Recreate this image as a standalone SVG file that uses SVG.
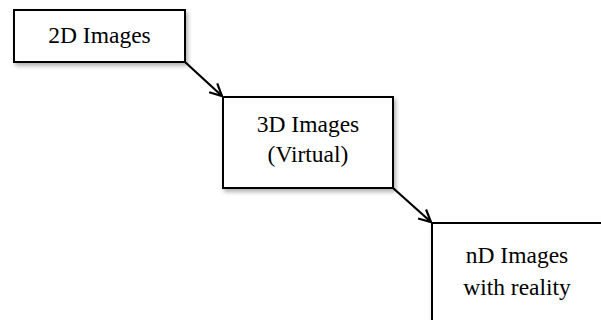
<svg xmlns="http://www.w3.org/2000/svg" width="601" height="320" viewBox="0 0 601 320">
<style>
.box{fill:#fff;stroke:#000;stroke-width:2}
.t{font-family:"Liberation Serif","Times New Roman",serif;font-size:23.5px;fill:#000;text-anchor:middle}
.c{stroke:#000;stroke-width:2.2;fill:none}
</style>
<defs>
<filter id="sh" x="-10%" y="-10%" width="130%" height="140%">
<feDropShadow dx="2" dy="3" stdDeviation="2" flood-color="#000" flood-opacity="0.3"/>
</filter>
<marker id="ah" viewBox="0 0 14 14" refX="13" refY="7" markerWidth="14" markerHeight="14" markerUnits="userSpaceOnUse" orient="auto">
<path d="M1,1 L13,7 L1,13" fill="none" stroke="#000" stroke-width="2.2"/>
</marker>
</defs>
<g id="connectors">
<line class="c" x1="185" y1="62" x2="222" y2="96" marker-end="url(#ah)"/>
<line class="c" x1="393" y1="188" x2="431" y2="222" marker-end="url(#ah)"/>
</g>
<g id="n1">
<rect class="box" x="14" y="10" width="171" height="52" filter="url(#sh)"/>
<text class="t" x="99.5" y="43">2D Images</text>
</g>
<g id="n2">
<rect class="box" x="223" y="97" width="170" height="91" filter="url(#sh)"/>
<text class="t" x="308" y="132">3D Images</text>
<text class="t" x="308" y="162">(Virtual)</text>
</g>
<g id="n3">
<rect class="box" x="432" y="223" width="190" height="120" filter="url(#sh)"/>
<text class="t" x="517" y="263">nD Images</text>
<text class="t" x="517" y="295">with reality</text>
</g>
</svg>
